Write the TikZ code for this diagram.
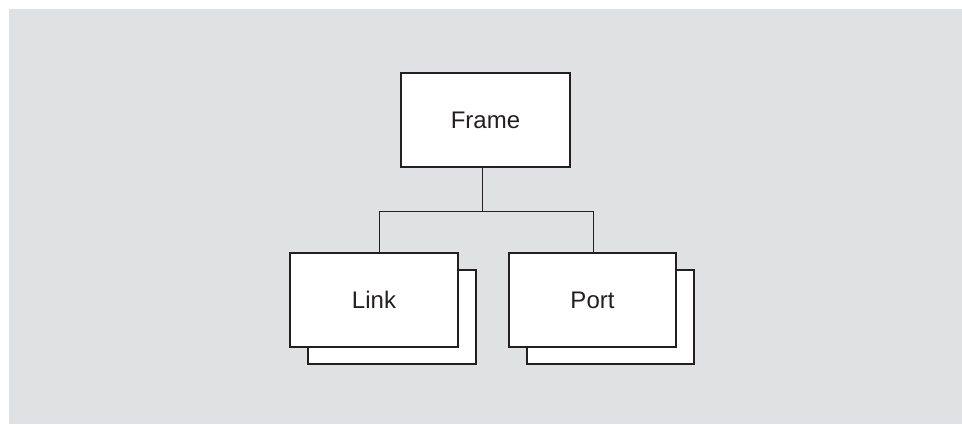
\documentclass[tikz,border=0pt]{standalone}
\usepackage{fontspec}
\setmainfont{Liberation Sans}
\definecolor{bggrey}{RGB}{224,225,227}
\definecolor{ink}{RGB}{35,31,32}
\tikzset{
  box/.style={draw=ink, line width=1.3pt, fill=white, minimum width=168pt, minimum height=94pt, inner sep=0pt, font=\fontsize{24}{28}\selectfont, text=ink},
  backbox/.style={box},
  wire/.style={draw=ink, line width=0.8pt}
}
\begin{document}
\begin{tikzpicture}[x=1pt,y=-1pt]
\useasboundingbox (0,0) rectangle (962,424);
\fill[bggrey] (9,9) rectangle (962,424);
% frame
\node[box, minimum width=169pt] (frame) at (485.5,120) {Frame};
% link
\node[backbox] (linkback) at (392,317) {};
\node[box] (link) at (374,300) {Link};
% port
\node[backbox, minimum width=167pt] (portback) at (610.5,317) {};
\node[box, minimum width=167pt] (port) at (592.5,300) {Port};
% connectors
\coordinate (bus) at (482,211);
\coordinate (busl) at (379,211);
\coordinate (busr) at (593,211);
\draw[wire] ([xshift=-3.5pt]frame.south) -- (bus);
\draw[wire] (busl) -- (busr);
\draw[wire] (busl) -- (busl |- link.north);
\draw[wire] (busr) -- (busr |- port.north);
\end{tikzpicture}
\end{document}
